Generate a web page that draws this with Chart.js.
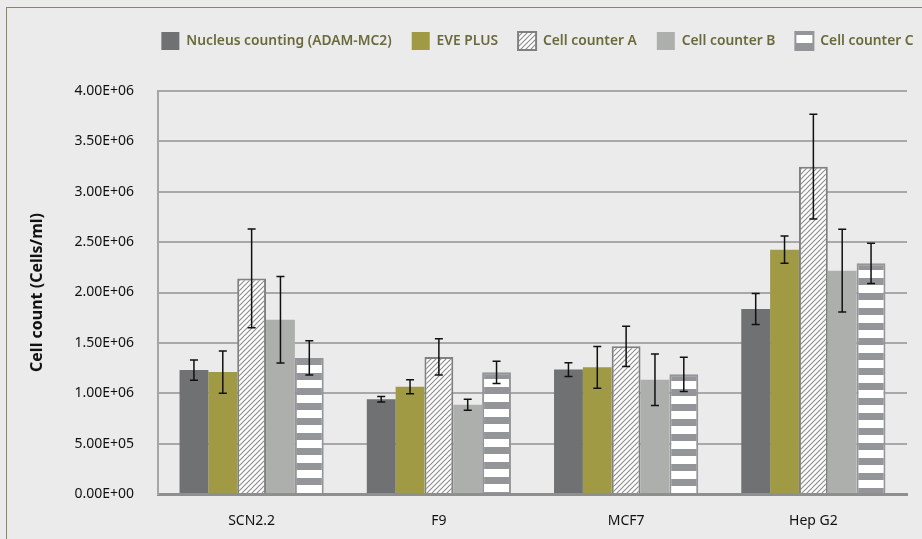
<!DOCTYPE html>
<html>
<head>
<meta charset="utf-8">
<script src="https://cdn.jsdelivr.net/npm/chart.js@4.4.1/dist/chart.umd.min.js"></script>
<style>
  html, body { margin: 0; padding: 0; background: #ebebeb; }
  #wrap { position: relative; width: 922px; height: 539px; overflow: hidden; }
  #frame { position: absolute; left: 6px; top: 7px; width: 940px; height: 560px; border-left: 1.5px solid #8b8a55; border-top: 1.5px solid #8b8a55; }
  canvas { position: absolute; left: 0; top: 0; }
</style>
</head>
<body>
<div id="wrap">
  <div id="frame"></div>
  <canvas id="chart" width="922" height="539"></canvas>
</div>
<script>
const categories = ['SCN2.2', 'F9', 'MCF7', 'Hep G2'];
const seriesNames = ['Nucleus counting (ADAM-MC2)', 'EVE PLUS', 'Cell counter A', 'Cell counter B', 'Cell counter C'];

const nucleusCounting = [1.23e6, 0.94e6, 1.235e6, 1.836e6];
const nucleusErr = [0.10e6, 0.027e6, 0.068e6, 0.153e6];
const evePlus = [1.21e6, 1.065e6, 1.257e6, 2.425e6];
const evePlusErr = [0.21e6, 0.07e6, 0.207e6, 0.135e6];
const counterA = [2.14e6, 1.36e6, 1.466e6, 3.249e6];
const counterAErr = [0.49e6, 0.18e6, 0.20e6, 0.52e6];
const counterB = [1.73e6, 0.886e6, 1.134e6, 2.217e6];
const counterBErr = [0.43e6, 0.055e6, 0.255e6, 0.41e6];
const counterC = [1.35e6, 1.208e6, 1.188e6, 2.29e6];
const counterCErr = [0.17e6, 0.11e6, 0.17e6, 0.20e6];

const yMax = 4e6;
const yStep = 0.5e6;

// 0.00E+00 style labels
function sci(v) {
    if (v === 0) return '0.00E+00';
    const e = Math.floor(Math.log10(v) + 1e-9);
    const m = v / Math.pow(10, e);
    return m.toFixed(2) + 'E+' + String(e).padStart(2, '0');
}

function diagPattern() {
    const c = document.createElement('canvas');
    c.width = 5; c.height = 5;
    const g = c.getContext('2d');
    g.fillStyle = '#ffffff';
    g.fillRect(0, 0, 5, 5);
    g.strokeStyle = '#8f8f8f';
    g.lineWidth = 1.2;
    g.beginPath();
    g.moveTo(-1, 6); g.lineTo(6, -1);
    g.moveTo(-1, 1); g.lineTo(1, -1);
    g.moveTo(4, 6); g.lineTo(6, 4);
    g.stroke();
    return g.createPattern(c, 'repeat');
}

const stripeTile = document.createElement('canvas');
stripeTile.width = 4; stripeTile.height = 15;
(function () {
    const g = stripeTile.getContext('2d');
    g.fillStyle = '#ffffff';
    g.fillRect(0, 0, 4, 15);
    g.fillStyle = '#939598';
    g.fillRect(0, 0, 4, 7);
})();

// stripes start at each bar's top, like the original
function stripeFill(ctx) {
    const chart = ctx.chart;
    const p = chart.ctx.createPattern(stripeTile, 'repeat');
    if (ctx.type === 'data' && chart.scales.y) {
        const top = Math.round(chart.scales.y.getPixelForValue(ctx.raw));
        p.setTransform(new DOMMatrix().translate(0, top));
    } else {
        p.setTransform(new DOMMatrix().translate(0, 32));
    }
    return p;
}

const errorBars = {
    id: 'errorBars',
    afterDatasetsDraw(chart) {
        const ctx = chart.ctx;
        const y = chart.scales.y;
        ctx.save();
        ctx.strokeStyle = '#111111';
        ctx.lineWidth = 1.5;
        chart.data.datasets.forEach((ds, di) => {
            const meta = chart.getDatasetMeta(di);
            meta.data.forEach((bar, i) => {
                const v = ds.data[i], e = ds.errors[i];
                const top = y.getPixelForValue(v + e);
                const bot = y.getPixelForValue(v - e);
                ctx.beginPath();
                ctx.moveTo(bar.x, top); ctx.lineTo(bar.x, bot);
                ctx.moveTo(bar.x - 4, top); ctx.lineTo(bar.x + 4, top);
                ctx.moveTo(bar.x - 4, bot); ctx.lineTo(bar.x + 4, bot);
                ctx.stroke();
            });
        });
        ctx.restore();
    }
};

// taller legend box, and legend shifted right like the original
const legendTweak = {
    id: 'legendTweak',
    beforeInit(chart) {
        const fit = chart.legend.fit;
        chart.legend.fit = function () {
            fit.bind(chart.legend)();
            this.height += 31;
        };
    },
    afterLayout(chart) {
        chart.legend.left += 80;
        chart.legend.right += 80;
    }
};

const hatch = diagPattern();

new Chart(document.getElementById('chart'), {
    type: 'bar',
    data: {
        labels: categories,
        datasets: [
            { label: seriesNames[0], data: nucleusCounting, errors: nucleusErr, backgroundColor: '#707173', borderColor: '#707173', borderWidth: 0 },
            { label: seriesNames[1], data: evePlus, errors: evePlusErr, backgroundColor: '#a09a45', borderColor: '#a09a45', borderWidth: 0 },
            { label: seriesNames[2], data: counterA, errors: counterAErr, backgroundColor: hatch, borderColor: '#808080', borderWidth: 2 },
            { label: seriesNames[3], data: counterB, errors: counterBErr, backgroundColor: '#adafad', borderColor: '#adafad', borderWidth: 0 },
            { label: seriesNames[4], data: counterC, errors: counterCErr, backgroundColor: stripeFill, borderColor: '#939598', borderWidth: 2 }
        ]
    },
    options: {
        responsive: false,
        animation: false,
        layout: { padding: { top: 12, left: 8, right: 15, bottom: 9 } },
        datasets: { bar: { categoryPercentage: 0.77, barPercentage: 1.0 } },
        plugins: {
            tooltip: { enabled: false },
            legend: {
                position: 'top',
                labels: {
                    boxWidth: 18,
                    boxHeight: 18,
                    padding: 20,
                    color: '#6a6a3c',
                    font: { family: 'Noto Sans', size: 13.8, weight: '600' }
                }
            }
        },
        scales: {
            x: {
                afterFit(s) { s.height = 36; },
                grid: { display: false, drawTicks: false },
                border: { display: true, color: '#8f8f8f', width: 3 },
                ticks: { color: '#111111', padding: 19, font: { family: 'Noto Sans', size: 14 } }
            },
            y: {
                min: 0,
                max: yMax,
                afterFit(s) { s.width = 150; },
                grid: { color: '#a8a8a8', lineWidth: 2, drawTicks: false },
                border: { display: true, color: '#a6a6a6', width: 2 },
                ticks: {
                    stepSize: yStep,
                    padding: 24,
                    color: '#111111',
                    font: { family: 'Noto Sans', size: 14 },
                    callback: (v) => sci(v)
                },
                title: {
                    display: true,
                    text: 'Cell count (Cells/ml)',
                    color: '#111111',
                    padding: { top: 20, bottom: 0 },
                    font: { family: 'Noto Sans', size: 16, weight: 'bold' }
                }
            }
        }
    },
    plugins: [errorBars, legendTweak]
});
</script>
</body>
</html>
